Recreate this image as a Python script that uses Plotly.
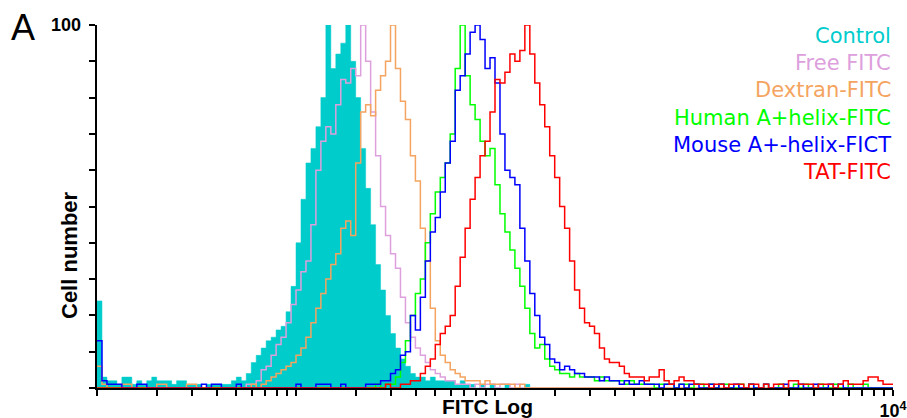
import plotly.graph_objects as go

# ---- data: flow-cytometry histograms (4-decade log scale, 160 channels) ----
N_CHANNELS = 160
DECADES = 4

series_names = ["Control", "Free FITC", "Dextran-FITC", "Human A+helix-FITC",
                "Mouse A+-helix-FICT", "TAT-FITC"]
series_colors = ["#00CCCC", "#DDA0DD", "#F4A460", "#00FF00", "#0000FF", "#FF0000"]

control_start = 0
control_counts = [24, 3, 2, 2, 1, 3, 3, 1, 2, 1,
                  2, 3, 2, 2, 2, 1, 2, 2, 1, 1,
                  1, 0, 1, 1, 1, 1, 1, 2, 3, 2,
                  4, 7, 9, 11, 13, 14, 16, 17, 21, 28,
                  40, 52, 62, 66, 72, 80, 100, 88, 92, 95,
                  100, 90, 80, 66, 55, 45, 34, 27, 20, 15,
                  11, 8, 6, 4, 3, 3, 2, 3, 2, 2,
                  2, 2, 1, 2, 1, 1, 0, 1, 0, 1,
                  0, 0, 1, 0, 0, 0, 1]

free_fitc_start = 30
free_fitc_counts = [1, 1, 2, 5, 6, 9, 12, 14, 18, 23,
                    27, 32, 35, 45, 60, 68, 72, 70, 78, 85,
                    84, 88, 86, 100, 90, 76, 64, 50, 42, 37,
                    33, 25, 18, 14, 11, 9, 7, 5, 4, 3,
                    2, 2, 1, 1, 1, 0, 1, 0, 1, 1,
                    0, 1, 1, 0, 1]

dextran_start = 30
dextran_counts = [0, 1, 0, 1, 2, 3, 4, 5, 6, 7,
                  9, 11, 14, 18, 22, 26, 30, 34, 37, 44,
                  46, 42, 62, 76, 78, 75, 82, 86, 90, 100,
                  88, 79, 74, 64, 57, 44, 35, 22, 13, 9,
                  7, 5, 4, 3, 2, 2, 2, 1, 2, 1,
                  1, 1, 1, 1, 0, 1]
dextran_left_counts = [6, 1, 0, 0, 0, 1, 1, 0, 0, 0, 0, 0, 1, 1, 0, 0, 0, 0, 1, 1]

human_start = 55
human_counts = [0, 1, 0, 1, 1, 3, 7, 13, 20, 26,
                30, 40, 48, 54, 58, 62, 70, 88, 100, 86,
                78, 74, 68, 64, 66, 56, 48, 43, 38, 33,
                28, 22, 15, 11, 12, 8, 6, 5, 4, 4,
                3, 4, 3, 3, 3, 2, 3, 2, 2, 2,
                2, 1, 2, 1, 1, 1, 1, 0, 1, 1,
                1, 0, 1, 1, 0, 1, 1, 0, 1, 0,
                1, 1, 0, 0, 1, 0, 1, 0, 0, 1,
                0, 0, 1, 0, 0, 1, 0, 1, 0, 0,
                1, 0, 0, 1, 0, 0, 1, 0, 0, 1]

mouse_start = 0
mouse_counts = [13, 2, 1, 1, 1, 0, 0, 0, 1, 1,
                0, 0, 0, 0, 0, 0, 0, 0, 0, 0,
                0, 1, 0, 1, 1, 0, 0, 0, 1, 0,
                0, 0, 0, 0, 0, 0, 0, 0, 0, 0,
                1, 0, 0, 0, 1, 1, 1, 0, 0, 1,
                0, 0, 0, 0, 1, 1, 1, 2, 2, 4,
                5, 9, 10, 20, 16, 25, 35, 43, 47, 54,
                62, 68, 82, 86, 92, 98, 100, 96, 88, 91,
                84, 70, 60, 58, 56, 44, 35, 26, 20, 14,
                12, 8, 7, 5, 6, 5, 4, 4, 3, 3,
                3, 2, 3, 2, 2, 1, 2, 1, 1, 2,
                1, 1, 1, 0, 1, 1, 0, 1, 0, 1,
                1, 0, 0, 1, 0, 1, 0, 0, 1, 0,
                0, 1, 0, 0, 1, 0, 0, 0, 1, 0,
                0, 1, 0, 0, 1, 0, 0, 1, 0, 1]

tat_start = 55
tat_counts = [0, 0, 0, 1, 0, 0, 1, 1, 2, 2,
              4, 6, 8, 12, 15, 17, 20, 28, 36, 44,
              52, 58, 64, 68, 76, 85, 84, 87, 92, 90,
              93, 100, 92, 84, 78, 72, 64, 58, 50, 44,
              35, 27, 22, 18, 17, 15, 11, 8, 7, 7,
              6, 4, 3, 3, 3, 2, 3, 3, 5, 2,
              1, 2, 3, 2, 2, 1, 1, 1, 0, 1,
              1, 0, 1, 1, 1, 0, 1, 1, 0, 1,
              0, 1, 1, 0, 2, 2, 1, 1, 1, 0,
              1, 1, 1, 0, 1, 2, 1, 1, 1, 2,
              3, 3, 2, 1, 1]

x_tick_label_top = "10<sup>4</sup>"
y_tick_label_top = "100"


def full_channels(start, counts, extra=None):
    vals = [0] * N_CHANNELS
    if extra:
        for k, v in enumerate(extra):
            vals[k] = v
    for k, v in enumerate(counts):
        if start + k < N_CHANNELS:
            vals[start + k] = v
    return vals


width = DECADES / N_CHANNELS
edges = [10 ** (k * width) for k in range(N_CHANNELS + 1)]


def step(vals):
    return edges, vals + [vals[-1]]


all_vals = [
    full_channels(control_start, control_counts),
    full_channels(free_fitc_start, free_fitc_counts),
    full_channels(dextran_start, dextran_counts, dextran_left_counts),
    full_channels(human_start, human_counts),
    full_channels(mouse_start, mouse_counts),
    full_channels(tat_start, tat_counts),
]

fig = go.Figure()
for i, (name, col, vals) in enumerate(zip(series_names, series_colors, all_vals)):
    xs, ys = step(vals)
    if i == 0:
        fig.add_trace(go.Scatter(x=xs, y=ys, mode="lines", name=name,
                                 line=dict(shape="hv", width=0.5, color=col),
                                 fill="tozeroy", fillcolor=col))
    else:
        fig.add_trace(go.Scatter(x=xs, y=ys, mode="lines", name=name,
                                 line=dict(shape="hv", width=1.5, color=col)))

# ticks
x_tickvals = []
for d in range(DECADES):
    for m in range(1, 10):
        x_tickvals.append(m * 10 ** d)
x_tickvals.append(10 ** DECADES)
x_ticktext = [""] * (len(x_tickvals) - 1) + [x_tick_label_top]
y_tickvals = list(range(0, 101, 10))
y_ticktext = [""] * len(y_tickvals)

L, R, T, B = 97, 14, 25, 30
W, H = 907, 418
pw, ph = W - L - R, H - T - B


def px(x):
    return (x - L) / pw


def py(y):
    return (H - B - y) / ph


fig.update_layout(
    width=W, height=H,
    margin=dict(l=L, r=R, t=T, b=B, autoexpand=False),
    paper_bgcolor="white", plot_bgcolor="white",
    showlegend=False,
    xaxis=dict(type="log", range=[0, DECADES], showgrid=False, zeroline=False,
               automargin=False,
               showline=True, linecolor="black", linewidth=1.5,
               ticks="outside", ticklen=6, tickwidth=1.5, tickcolor="black",
               tickvals=x_tickvals, ticktext=x_ticktext,
               tickfont=dict(family="Liberation Sans, Arial", size=18, color="black",
                             weight="bold")),
    yaxis=dict(range=[0, 100], showgrid=False, zeroline=False,
               automargin=False,
               showline=True, linecolor="black", linewidth=1.5,
               ticks="outside", ticklen=6, tickwidth=1.5, tickcolor="black",
               tickvals=y_tickvals, ticktext=y_ticktext),
)

ann = []
ann.append(dict(text="<b>" + y_tick_label_top + "</b>", x=px(83), y=100, xref="paper", yref="y",
                showarrow=False, xanchor="right", yanchor="middle",
                font=dict(family="Liberation Sans, Arial", size=18, color="black")))
ann.append(dict(text="A", x=px(23), y=py(28), xref="paper", yref="paper",
                showarrow=False, xanchor="center", yanchor="middle",
                font=dict(family="Liberation Sans, Arial", size=36, color="black")))
ann.append(dict(text="<b>FITC Log</b>", x=px(487), y=py(406), xref="paper", yref="paper",
                showarrow=False, xanchor="center", yanchor="middle",
                font=dict(family="Liberation Sans, Arial", size=21, color="black")))
ann.append(dict(text="<b>Cell number</b>", x=px(69), y=py(255), xref="paper", yref="paper",
                showarrow=False, xanchor="center", yanchor="middle", textangle=-90,
                font=dict(family="Liberation Sans, Arial", size=22, color="black")))
legend_y = [36, 63, 90, 118, 145, 172]
for name, col, ly in zip(series_names, series_colors, legend_y):
    ann.append(dict(text=name, x=px(893), y=py(ly), xref="paper", yref="paper",
                    showarrow=False, xanchor="right", yanchor="middle",
                    font=dict(family="DejaVu Sans, Verdana", size=21, color=col)))
fig.update_layout(annotations=ann)

fig.write_html("out.html",
               config={"displayModeBar": False},
               post_script="document.body.style.margin='0px';"
                           "document.body.style.overflow='hidden';")
